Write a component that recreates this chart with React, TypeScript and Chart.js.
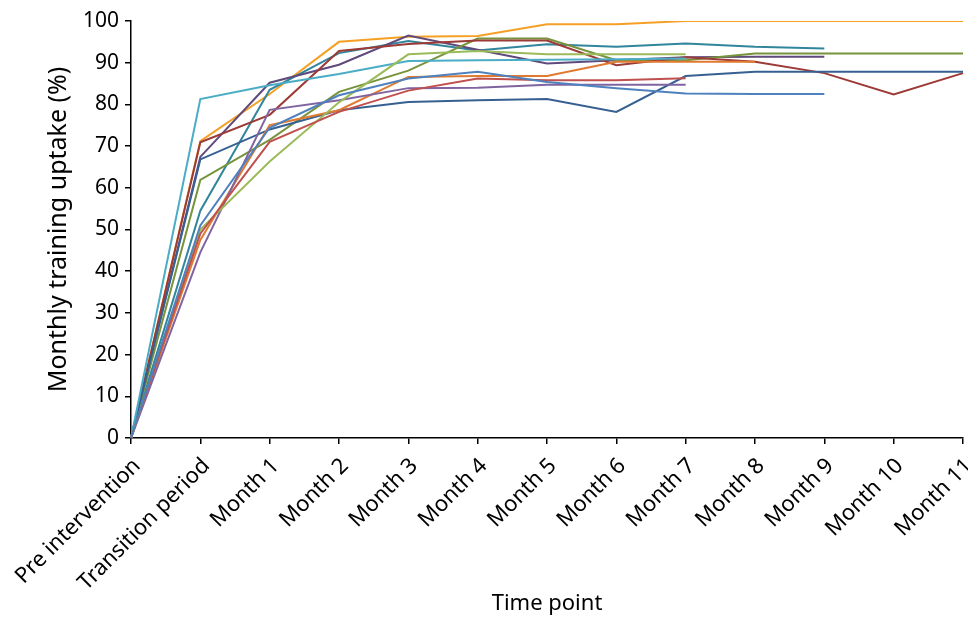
import React, { useEffect, useRef } from "react";
import { Chart, registerables } from "chart.js";

Chart.register(...registerables);

const timePoints = [
  "Pre intervention", "Transition period", "Month 1", "Month 2", "Month 3", "Month 4",
  "Month 5", "Month 6", "Month 7", "Month 8", "Month 9", "Month 10", "Month 11",
];
const yTicks = [0, 10, 20, 30, 40, 50, 60, 70, 80, 90, 100];

const seriesBlue = [0, 51, 74.4, 82.2, 86.2, 87.8, 85.4, 83.9, 82.6, 82.5, 82.5, null, null];
const seriesRed = [0, 49, 71, 78.2, 83.3, 86.2, 85.8, 85.8, 86.3, null, null, null, null];
const seriesLightGreen = [0, 50, 66.3, 80.5, 92, 92.8, 92, 92, 92, null, null, null, null];
const seriesLightPurple = [0, 44.5, 78.7, 81, 83.9, 84, 84.7, 84.7, 84.7, null, null, null, null];
const seriesCyan = [0, 81.3, 84.6, 87.3, 90.4, 90.6, 90.7, 90.8, 91, null, null, null, null];
const seriesOrangeDark = [0, 47.5, 75, 78.6, 86.6, 86.8, 86.8, 90.2, 90.2, 90.2, null, null, null];
const seriesDarkBlue = [0, 66.8, 74, 78.6, 80.6, 81, 81.3, 78.2, 86.8, 87.8, 87.8, 87.8, 87.8];
const seriesDarkRed = [0, 70.9, 77.5, 92.8, 94.5, 95.3, 95.3, 89.4, 91.3, 90.2, 87.5, 82.4, 87.5];
const seriesOlive = [0, 61.9, 71.5, 83, 88.1, 95.8, 95.8, 90.6, 90.6, 92.2, 92.2, 92.2, 92.2];
const seriesDarkPurple = [0, 67.4, 85.2, 89.5, 96.5, 93.1, 89.8, 90.6, 91.3, 91.4, 91.4, null, null];
const seriesTeal = [0, 54.5, 83.5, 92.3, 95.2, 92.9, 94.4, 93.8, 94.6, 93.8, 93.4, null, null];
const seriesOrange = [0, 71.2, 82.5, 95, 96.2, 96.4, 99.2, 99.2, 100, 100, 100, 100, 100];

const seriesList = [
  { data: seriesBlue, color: "#4F81BD" },
  { data: seriesRed, color: "#C0504D" },
  { data: seriesLightGreen, color: "#9BBB59" },
  { data: seriesLightPurple, color: "#8064A2" },
  { data: seriesCyan, color: "#4BACC6" },
  { data: seriesOrangeDark, color: "#E07A30" },
  { data: seriesDarkBlue, color: "#376092" },
  { data: seriesDarkRed, color: "#9C3A36" },
  { data: seriesOlive, color: "#77933C" },
  { data: seriesDarkPurple, color: "#604A7B" },
  { data: seriesTeal, color: "#31859C" },
  { data: seriesOrange, color: "#F5A025" },
];

const FONT = "'Noto Sans', 'Open Sans', sans-serif";

export default function App() {
  const ref = useRef<HTMLCanvasElement | null>(null);

  useEffect(() => {
    document.body.style.margin = "0";
    const canvas = ref.current;
    if (!canvas) return;
    const chart = new Chart(canvas, {
      type: "line",
      data: {
        labels: timePoints,
        datasets: seriesList.map((s, i) => ({
          label: "Series " + (i + 1),
          data: s.data,
          borderColor: s.color,
          backgroundColor: s.color,
          borderWidth: 2,
          pointRadius: 0,
          tension: 0,
          spanGaps: false,
        })),
      },
      options: {
        responsive: false,
        animation: false,
        layout: { padding: { top: 21, right: 5, left: 44, bottom: 0 } },
        plugins: { legend: { display: false }, tooltip: { enabled: false } },
        scales: {
          x: {
            offset: false,
            grid: { drawOnChartArea: false, drawTicks: true, tickLength: 6, color: "#000", lineWidth: 1.5 },
            border: { color: "#000", width: 1.5 },
            ticks: {
              color: "#000",
              font: { family: FONT, size: 22 },
              maxRotation: 45,
              minRotation: 45,
              autoSkip: false,
              padding: 9,
              labelOffset: 6,
            },
            title: {
              display: true,
              text: "Time point",
              color: "#000",
              font: { family: FONT, size: 22 },
              padding: { top: 0, bottom: 0 },
            },
            afterFit: (s: any) => {
              s.height = 179;
              s.paddingRight = 0;
              s.paddingLeft = 0;
            },
          },
          y: {
            min: 0,
            max: 100,
            grid: { drawOnChartArea: false, drawTicks: true, tickLength: 6, color: "#000", lineWidth: 1.5 },
            border: { color: "#000", width: 1.5 },
            afterBuildTicks: (s: any) => {
              s.ticks = yTicks.map((v) => ({ value: v }));
            },
            ticks: {
              color: "#000",
              font: { family: FONT, size: 21 },
              padding: 6,
            },
            title: {
              display: true,
              text: "Monthly training uptake (%)",
              color: "#000",
              font: { family: FONT, size: 25 },
              padding: { top: 0, bottom: 0 },
            },
            afterFit: (s: any) => {
              s.width = 87;
            },
          },
        },
      },
    });
    return () => chart.destroy();
  }, []);

  return <canvas ref={ref} width={968} height={617} style={{ display: "block" }} />;
}
